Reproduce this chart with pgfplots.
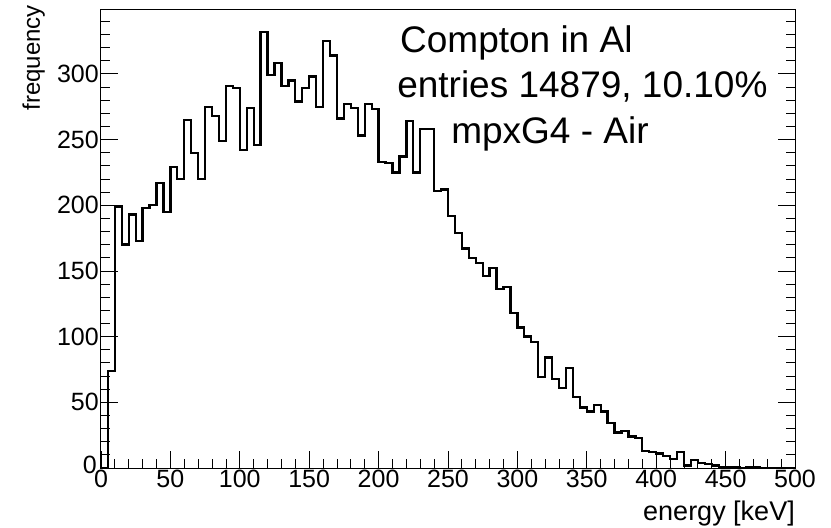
\documentclass[border=0pt]{standalone}
\usepackage{fontspec}
\setmainfont{Liberation Sans}
\usepackage{pgfplots}
\pgfplotsset{compat=1.18}
\usepackage{pgfplotstable}
\pgfplotstableread{
x y
0 0
5 74
10 199
15 170
20 193
25 173
30 198
35 200
40 217
45 195
50 229
55 220
60 265
65 240
70 220
75 275
80 268
85 249
90 291
95 289
100 242
105 274
110 246
115 332
120 299
125 308
130 291
135 295
140 279
145 289
150 298
155 275
160 325
165 314
170 266
175 277
180 274
185 253
190 277
195 273
200 233
205 232
210 225
215 237
220 264
225 225
230 258
235 258
240 211
245 212
250 192
255 179
260 167
265 160
270 156
275 146
280 152
285 136
290 138
295 118
300 107
305 100
310 96
315 69
320 84
325 68
330 61
335 76
340 54
345 46
350 43
355 48
360 43
365 34
370 27
375 28
380 24
385 23
390 13
395 12
400 11
405 9
410 7
415 12
420 2
425 6
430 4
435 3
440 2
445 1
450 1
455 1
460 0
465 1
470 1
475 0
480 0
485 0
490 0
495 0
500 0
}\histdata
\begin{document}
\begin{tikzpicture}
\useasboundingbox (-101bp,-60bp) rectangle (730bp,468bp);
\begin{axis}[
  at={(0,0)}, anchor=south west,
  scale only axis, width=694bp, height=458bp,
  xmin=0, xmax=500, ymin=0, ymax=348.6,
  xtick distance=50, ytick distance=50,
  minor x tick num=4, minor y tick num=4,
  tick align=inside, xtick pos=left, ytick pos=both,
  major tick length=17bp, minor tick length=9bp,
  axis line style={line width=1bp},
  tick style={black, line width=0.8bp},
  /pgf/number format/assume math mode=true,
  ticklabel style={font=\fontsize{25bp}{25bp}\selectfont},
  yticklabel style={inner sep=2pt},
  xticklabel style={inner sep=2pt},
  yticklabel={\ifdim\tick pt<1pt \raisebox{7bp}{0}\kern2bp\else\pgfmathprintnumber{\tick}\fi},
  scaled ticks=false,
  xlabel={energy [keV]}, ylabel={frequency},
  label style={inner sep=0pt},
  xlabel style={font=\fontsize{27bp}{27bp}\selectfont, at={(rel axis cs:1,-0.1157)}, anchor=base east},
  ylabel style={font=\fontsize{24bp}{24bp}\selectfont, at={(rel axis cs:-0.0807,1.011)}, anchor=south east},
]
\addplot[const plot mark left, black, line width=2.3bp, mark=none] table {\histdata};
\node[anchor=base west, font=\fontsize{37bp}{37bp}\selectfont, inner sep=0pt] at (axis cs:215.4,316.3) {Compton in Al};
\node[anchor=base west, font=\fontsize{37bp}{37bp}\selectfont, inner sep=0pt] at (axis cs:213.3,281.9) {entries 14879, 10.10\%};
\node[anchor=base west, font=\fontsize{37bp}{37bp}\selectfont, inner sep=0pt] at (axis cs:252.2,247) {mpxG4 - Air};
\end{axis}
\end{tikzpicture}
\end{document}
